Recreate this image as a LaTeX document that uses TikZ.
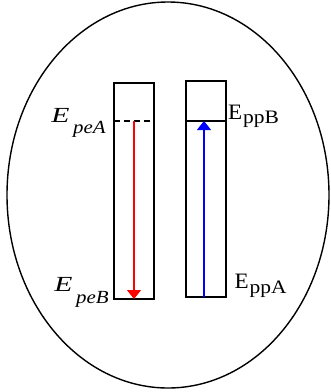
\documentclass[tikz,border=0pt]{standalone}
\usepackage{fontspec}
\setmainfont{Liberation Serif}
\usetikzlibrary{arrows.meta,shapes.geometric}
\tikzset{
  bar/.style={draw, line width=1.8pt, minimum width=40pt, minimum height=216pt, inner sep=0pt, outer sep=0pt},
  lab/.style={anchor=base west, inner sep=0pt, outer sep=0pt},
  trans/.style={line width=1.2pt, -{Triangle[length=9pt,width=14pt]}},
}
\newcommand{\itlab}[2]{\scalebox{1.38}[1]{\fontsize{21.5}{21}\selectfont\textit{#1}}\hspace{3.5pt}\raisebox{-11.5pt}{\scalebox{1.13}[1]{\fontsize{18.5}{18}\selectfont\textit{#2}}}}
\newcommand{\uplab}[2]{\scalebox{1.05}[1]{\fontsize{22}{22}\selectfont #1}\hspace{1pt}\raisebox{-4.5pt}{\scalebox{1.13}[1]{\fontsize{19}{19}\selectfont #2}}}
\begin{document}
\begin{tikzpicture}[x=1pt,y=-1pt]
\useasboundingbox (0,0) rectangle (331,392);
\node[draw, line width=1.4pt, ellipse, minimum width=322pt, minimum height=386pt, inner sep=0pt] (cell) at (168,195) {};
\node[bar] (L) at (134,191) {};
\node[bar] (R) at (206,189) {};
% levels
\coordinate (peA) at (134,121);
\coordinate (peB) at (134,299);
\coordinate (ppB) at (204,121);
\coordinate (ppA) at (204,297);
\draw[line width=1.6pt, dash pattern=on 6pt off 4pt] (L.west |- peA) -- (L.east |- peA);
\draw[line width=1.6pt] (R.west |- ppB) -- (R.east |- ppB);
\draw[trans, red] (peA) -- (peB);
\draw[trans, blue] (ppA) -- (ppB);
% labels
\node[lab] (lpeA) at (51.5,122.3) {\itlab{E}{peA}};
\node[lab] (lpeB) at (54.5,291.5) {\itlab{E}{peB}};
\node[lab] (lppB) at (228,119) {\uplab{E}{ppB}};
\node[lab] (lppA) at (234.5,288.5) {\uplab{E}{ppA}};
\end{tikzpicture}
\end{document}
